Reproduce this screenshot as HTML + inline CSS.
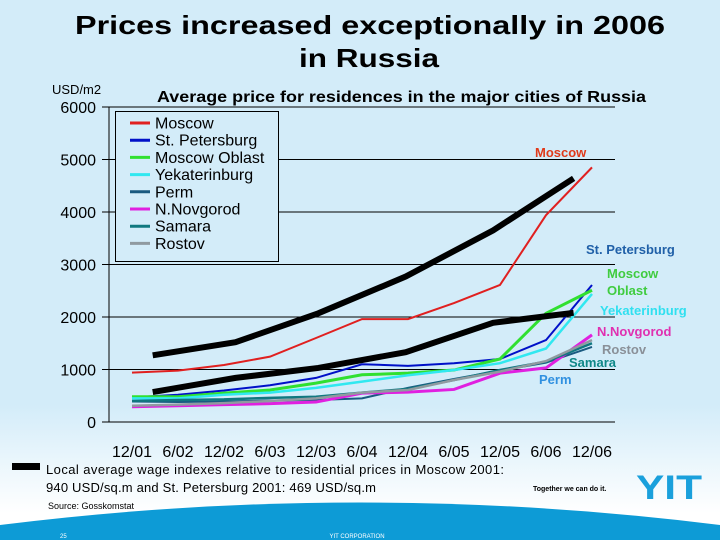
<!DOCTYPE html>
<html><head><meta charset="utf-8"><style>
body{margin:0;width:720px;height:540px;overflow:hidden;font-family:"Liberation Sans",sans-serif;}
#bg{position:absolute;left:0;top:0;width:720px;height:540px;background:linear-gradient(#d3ecf9 0%,#d3ecf9 75%,#ffffff 95%);}
</style></head><body>
<div id="bg"></div>
<svg id="chart" width="720" height="540" style="position:absolute;left:0;top:0" font-family="Liberation Sans, sans-serif">
<text x="75" y="34" font-size="26" font-weight="bold" textLength="590" lengthAdjust="spacingAndGlyphs">Prices increased exceptionally in 2006</text>
<text x="299" y="67" font-size="26" font-weight="bold" textLength="140" lengthAdjust="spacingAndGlyphs">in Russia</text>
<text x="52" y="94" font-size="13">USD/m2</text>
<text x="157" y="102" font-size="15.5" font-weight="bold" textLength="489" lengthAdjust="spacingAndGlyphs">Average price for residences in the major cities of Russia</text>
<g id="grid"></g><g id="series"></g><g id="labels"></g>
<g id="legend">
<rect x="115.5" y="111.5" width="163" height="150" fill="#d3ecf9" stroke="#000" stroke-width="1"/>
</g>
<rect x="12" y="463" width="28" height="7" fill="#000"/>
<text x="46" y="474" font-size="13" textLength="458">Local average wage indexes relative to residential prices in Moscow 2001:</text>
<text x="46" y="492" font-size="13" textLength="330">940 USD/sq.m and St. Petersburg 2001: 469 USD/sq.m</text>
<text x="48" y="509" font-size="9">Source: Gosskomstat</text>
<path d="M0,525 Q360,480 720,525 L720,540 L0,540 Z" fill="#0d9bd6"/>
<text x="60" y="538" font-size="6" fill="#fff">25</text>
<text x="357" y="538" font-size="6" fill="#fff" text-anchor="middle">YIT CORPORATION</text>
<text x="533" y="491" font-size="7" font-weight="bold">Together we can do it.</text>
<text x="636" y="499" font-size="34" font-weight="bold" fill="#1aa0dc" textLength="66" lengthAdjust="spacingAndGlyphs">YIT</text>
</svg>
<script>
const categories=["12/01","6/02","12/02","6/03","12/03","6/04","12/04","6/05","12/05","6/06","12/06"];
const yTicks=[0,1000,2000,3000,4000,5000,6000];
const moscow=[940,978,1085,1245,1600,1960,1960,2265,2610,3940,4850];
const stPetersburg=[469,520,600,700,840,1100,1070,1120,1200,1560,2610];
const moscowOblast=[480,480,550,610,740,900,930,990,1200,2070,2510];
const yekaterinburg=[450,450,520,560,650,770,890,990,1120,1400,2440];
const perm=[390,380,390,410,420,450,650,820,980,1130,1430];
const nNovgorod=[290,310,330,350,380,550,570,620,930,1030,1660];
const samara=[400,420,430,460,480,560,630,800,990,1150,1500];
const rostov=[310,330,360,400,450,560,610,800,960,1160,1560];
const wageX=[0.45,2.25,4.05,5.95,7.85,9.6];
const wageMoscow=[1270,1520,2070,2770,3650,4640];
const wageStPete=[570,840,1030,1330,1890,2080];
const seriesNames=["Moscow","St. Petersburg","Moscow Oblast","Yekaterinburg","Perm","N.Novgorod","Samara","Rostov"];

const NS="http://www.w3.org/2000/svg";
const xS=i=>132+i*46;
const yS=v=>422-v*315/6000;
function mk(tag,attrs,parent){const e=document.createElementNS(NS,tag);for(const k in attrs)e.setAttribute(k,attrs[k]);parent.appendChild(e);return e;}
const grid=document.getElementById('grid'),ser=document.getElementById('series'),lab=document.getElementById('labels'),leg=document.getElementById('legend');
mk('line',{x1:109,y1:107,x2:109,y2:422,stroke:'#000'},grid);
yTicks.forEach(t=>{
 const l=mk('line',{x1:102,x2:615,y1:yS(t),y2:yS(t),stroke:'#000','stroke-width':1},grid);
 
 
 const tx=mk('text',{x:96,y:yS(t)+6,'text-anchor':'end','font-size':16},grid);
 tx.textContent=t;
 
 
});
categories.forEach((c,i)=>{
 const tx=mk('text',{x:xS(i),y:457,'text-anchor':'middle','font-size':16},grid);
 tx.textContent=c;
 
 
});
const defs=[[moscow,'#e02020',2,'Moscow'],[stPetersburg,'#0010c8',2,'St. Petersburg'],[moscowOblast,'#30e030',3,'Moscow Oblast'],[yekaterinburg,'#30e8f0',2.5,'Yekaterinburg'],[perm,'#1a5a80',2,'Perm'],[nNovgorod,'#e020e0',3,'N.Novgorod'],[samara,'#107880',2.5,'Samara'],[rostov,'#909aa0',2.5,'Rostov']];
defs.forEach(([d,c,w,n])=>{
 const p=mk('polyline',{points:d.map((v,i)=>xS(i)+','+yS(v)).join(' '),fill:'none',stroke:c,'stroke-width':w},ser);
 
 
});
[[wageMoscow,'moscow'],[wageStPete,'st-petersburg']].forEach(([d,n])=>{
 const p=mk('polyline',{points:d.map((v,i)=>xS(wageX[i])+','+yS(v)).join(' '),fill:'none',stroke:'#000','stroke-width':6},ser);
 
 
});
defs.forEach(([d,c,w,n],k)=>{
 const y=123+k*17.2;
 const l=mk('line',{x1:130,x2:150,y1:y,y2:y,stroke:c,'stroke-width':3},leg);
 
 
 const t=mk('text',{x:155,y:y+5.5,'font-size':16},leg);
 t.textContent=n;
 
 
});
const endLabels=[["Moscow",535,157,'#e03a1a'],["St. Petersburg",586,254,'#2060a8'],["Moscow",607,278,'#40cc40'],["Oblast",607,295,'#40cc40'],["Yekaterinburg",600,315,'#30e0f0'],["N.Novgorod",597,336,'#e030b0'],["Rostov",602,354,'#8a9098'],["Samara",569,367,'#108888'],["Perm",539,384,'#3090e0']];
endLabels.forEach(([t,x,y,c])=>{
 const e=mk('text',{x:x,y:y,'font-size':13,'font-weight':'bold',fill:c},lab);
 e.textContent=t;
 
 
});
</script>
</body></html>
